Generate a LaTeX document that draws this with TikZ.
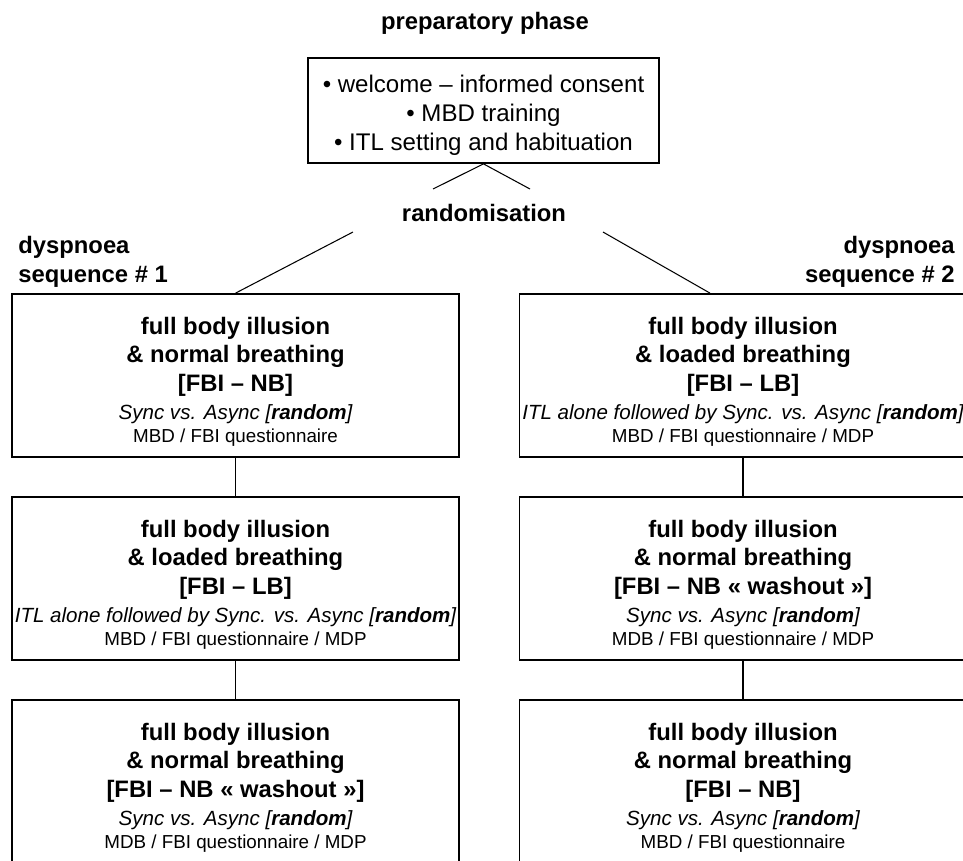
\documentclass[tikz,border=0pt]{standalone}
\usepackage{fontspec}
\setmainfont{Liberation Sans}
\newcommand\condline[1]{{\fontsize{11.7}{13}\selectfont\mdseries\itshape #1}}
\newcommand\measline[1]{{\fontsize{10.7}{13}\selectfont\mdseries #1}}
\newcommand\toppad[1]{\rule{0pt}{#1}}
\begin{document}
\begin{tikzpicture}[x=0.02cm,y=-0.02cm,
  every node/.style={inner sep=0pt},
  phasebox/.style={draw,line width=1pt,minimum width=7.02cm,minimum height=2.1cm,align=center,font=\fontsize{13.7}{16.6}\selectfont},
  stagebox/.style={draw,line width=1pt,minimum width=8.94cm,minimum height=3.26cm,align=center,font=\fontsize{13.55}{16.2}\selectfont\bfseries},
  headtext/.style={font=\fontsize{13.55}{16.8}\selectfont\bfseries},
  link/.style={line width=0.6pt}]
  \useasboundingbox (0,0) rectangle (963,860);
  \clip (0,0) rectangle (963,860);
  % preparatory phase
  \node[headtext] (prep) at (485,23) {preparatory phase};
  \node[phasebox] (welcome) at (483.5,110.5) {\toppad{15pt}• welcome – informed consent\\• MBD training\\• ITL setting and habituation};
  \node[headtext] (rand) at (484,213) {randomisation};
  \coordinate (rl) at (433,189);
  \coordinate (rr) at (530,189);
  \coordinate (sl) at (353,232);
  \coordinate (sr) at (603,232);
  \node[headtext,align=left,anchor=west] (seq1) at (18,262) {dyspnoea\\sequence \# 1};
  \node[headtext,align=right,anchor=east] (seq2) at (955,262) {dyspnoea\\sequence \# 2};
  % sequence 1
  \node[stagebox] (l1) at (235.5,375.5) {\toppad{16.7pt}full body illusion\\ \& normal breathing\\{[FBI – NB]}\\\condline{Sync vs. Async [\textbf{random}]}\\[-3.2pt]\measline{MBD / FBI questionnaire}};
  \node[stagebox] (l2) at (235.5,578.5) {\toppad{16.7pt}full body illusion\\ \& loaded breathing\\{[FBI – LB]}\\\condline{ITL alone followed by Sync. vs. Async [\textbf{random}]}\\[-3.2pt]\measline{MBD / FBI questionnaire / MDP}};
  \node[stagebox] (l3) at (235.5,781.5) {\toppad{16.7pt}full body illusion\\ \& normal breathing\\{[FBI – NB « washout »]}\\\condline{Sync vs. Async [\textbf{random}]}\\[-3.2pt]\measline{MDB / FBI questionnaire / MDP}};
  % sequence 2
  \node[stagebox] (r1) at (743,375.5) {\toppad{16.7pt}full body illusion\\ \& loaded breathing\\{[FBI – LB]}\\\condline{ITL alone followed by Sync. vs. Async [\textbf{random}]}\\[-3.2pt]\measline{MBD / FBI questionnaire / MDP}};
  \node[stagebox] (r2) at (743,578.5) {\toppad{16.7pt}full body illusion\\ \& normal breathing\\{[FBI – NB « washout »]}\\\condline{Sync vs. Async [\textbf{random}]}\\[-3.2pt]\measline{MDB / FBI questionnaire / MDP}};
  \node[stagebox] (r3) at (743,781.5) {\toppad{16.7pt}full body illusion\\ \& normal breathing\\{[FBI – NB]}\\\condline{Sync vs. Async [\textbf{random}]}\\[-3.2pt]\measline{MBD / FBI questionnaire}};
  % connectors
  \draw[link] (rl) -- (welcome.south) -- (rr);
  \draw[link] (sl) -- (l1.north);
  \draw[link] (sr) -- ([xshift=-0.66cm]r1.north);
  \foreach \a/\b in {l1/l2,l2/l3,r1/r2,r2/r3}
    \draw[link] (\a) -- (\b);
\end{tikzpicture}
\end{document}
